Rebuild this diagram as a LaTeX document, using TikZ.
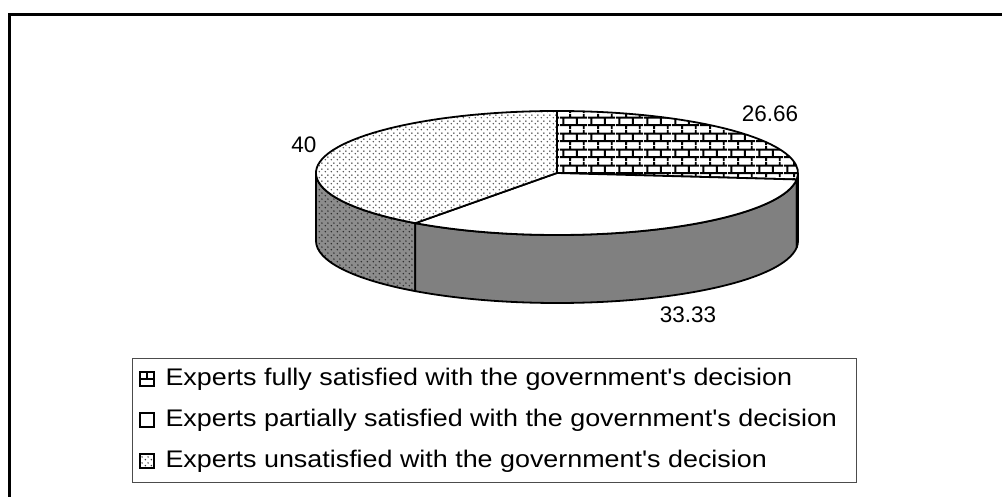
\documentclass[tikz,border=0pt]{standalone}
\usepackage{fontspec}
\setmainfont{Liberation Sans}
\newfontfamily\legendfont[FakeStretch=1.12]{Liberation Sans}
\usepackage{tikz}
\usetikzlibrary{positioning, calc, patterns}

\pgfdeclarepatternformonly{wallbricks}{\pgfpointorigin}{\pgfpoint{28pt}{16pt}}{\pgfpoint{28pt}{16pt}}{
	\pgfsetlinewidth{2pt}
	\pgfpathmoveto{\pgfpoint{0pt}{4pt}}\pgfpathlineto{\pgfpoint{28pt}{4pt}}
	\pgfpathmoveto{\pgfpoint{0pt}{12pt}}\pgfpathlineto{\pgfpoint{28pt}{12pt}}
	\pgfpathmoveto{\pgfpoint{3.5pt}{4pt}}\pgfpathlineto{\pgfpoint{3.5pt}{12pt}}
	\pgfpathmoveto{\pgfpoint{17.5pt}{4pt}}\pgfpathlineto{\pgfpoint{17.5pt}{12pt}}
	\pgfpathmoveto{\pgfpoint{10.5pt}{12pt}}\pgfpathlineto{\pgfpoint{10.5pt}{16pt}}
	\pgfpathmoveto{\pgfpoint{10.5pt}{0pt}}\pgfpathlineto{\pgfpoint{10.5pt}{4pt}}
	\pgfpathmoveto{\pgfpoint{24.5pt}{12pt}}\pgfpathlineto{\pgfpoint{24.5pt}{16pt}}
	\pgfpathmoveto{\pgfpoint{24.5pt}{0pt}}\pgfpathlineto{\pgfpoint{24.5pt}{4pt}}
	\pgfusepath{stroke}
}
\pgfdeclarepatternformonly{finedots}{\pgfpointorigin}{\pgfpoint{6pt}{6pt}}{\pgfpoint{6pt}{6pt}}{
	\pgfpathcircle{\pgfpoint{1.5pt}{1.5pt}}{0.9pt}
	\pgfpathcircle{\pgfpoint{4.5pt}{4.5pt}}{0.9pt}
	\pgfusepath{fill}
}

\definecolor{sidegray}{RGB}{140,140,140}

\tikzset{
	rimline/.style={line width=1.8pt, line join=round, x radius=241pt, y radius=62pt},
	keybox/.style={rectangle, draw, line width=1.6pt, minimum size=14pt, inner sep=0pt},
	legendtext/.style={anchor=base west, font=\legendfont\fontsize{24}{28}\selectfont},
	valuelabel/.style={anchor=base}
}

\begin{document}
\begin{tikzpicture}[x=1pt, y=1pt, font=\fontsize{22.5}{27}\selectfont]
	\useasboundingbox (0,0) rectangle (1002,497);
	\draw[line width=3pt] (9,0) -- (9,482) -- (1002,482);

	% pie
	\coordinate (C) at (557,324);
	\coordinate (R90) at ($(C)+(90:241pt and 62pt)$);
	\coordinate (R354) at ($(C)+(-6:241pt and 62pt)$);
	\coordinate (R234) at ($(C)+(234:241pt and 62pt)$);
	\coordinate (R180) at ($(C)+(180:241pt and 62pt)$);

	\draw[rimline, preaction={fill=sidegray}, pattern=finedots, pattern color=black!85] (R180) arc[start angle=180, end angle=234] -- ++(0,-68) arc[start angle=234, end angle=180] -- cycle;
	\draw[rimline, fill=gray] (R234) arc[start angle=234, end angle=354] -- ++(0,-68) arc[start angle=354, end angle=234] -- cycle;
	\draw[rimline, fill=gray] (R354) arc[start angle=354, end angle=360] -- ++(0,-68) arc[start angle=360, end angle=354] -- cycle;

	\draw[rimline, preaction={fill=white}, pattern=wallbricks] (C) -- (R90) arc[start angle=90, end angle=-6] -- cycle;
	\draw[rimline, fill=white] (C) -- (R354) arc[start angle=-6, end angle=-126] -- cycle;
	\draw[rimline, preaction={fill=white}, pattern=finedots, pattern color=black!70] (C) -- (R234) arc[start angle=234, end angle=90] -- cycle;

	\node[valuelabel] (full) at (770,375) {26.66};
	\node[valuelabel] (unsat) at (304,344) {40};
	\node[valuelabel] (partial) at (688,174) {33.33};

	% legend
	\draw[gray!60!black, line width=1pt] (132,14) rectangle (856,138);
	\node[keybox, fill=white] (keyfull) at (147,118) {};
	\draw[line width=1.6pt] (keyfull.west) -- (keyfull.east);
	\draw[line width=1.6pt] (keyfull.center) -- (keyfull.north);
	\node[keybox, fill=white] (keypartial) at (147,77) {};
	\node[keybox, pattern=finedots, pattern color=black!75] (keyunsat) at (147,36) {};
	\node[legendtext] (textfull) at (162,111) {Experts fully satisfied with the government's decision};
	\node[legendtext] (textpartial) at (162,70) {Experts partially satisfied with the government's decision};
	\node[legendtext] (textunsat) at (162,29) {Experts unsatisfied with the government's decision};
\end{tikzpicture}
\end{document}
